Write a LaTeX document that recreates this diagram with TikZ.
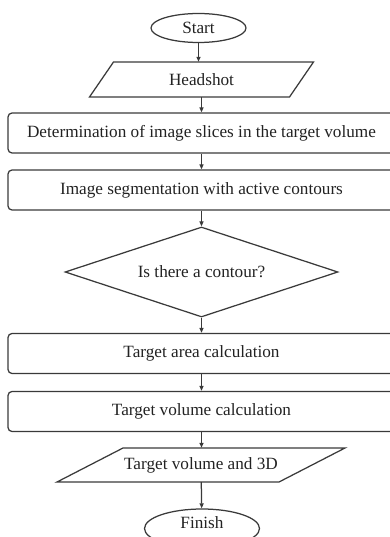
\documentclass[tikz,border=0pt]{standalone}
\usepackage{fontspec}
\setmainfont{Liberation Serif}
\usetikzlibrary{shapes.geometric,arrows.meta,calc}
\definecolor{ln}{HTML}{3A3A3A}
\definecolor{tx}{HTML}{222222}
\tikzset{
  line/.style={draw=ln, line width=1.25pt},
  arr/.style={line, -{Triangle[length=5pt,width=4pt]}},
  txt/.style={text=tx, font=\fontsize{17.2}{19}\selectfont},
  term/.style={ellipse, line, txt, inner sep=0pt},
  procbox/.style={rectangle, line, txt, rounded corners=4pt, minimum width=387pt, minimum height=40pt, inner sep=0pt},
  iotext/.style={inner sep=0pt, txt, minimum height=#1},
  decision/.style={diamond, line, txt, aspect=3, inner sep=0pt, minimum width=273pt, minimum height=90pt},
}
\begin{document}
\begin{tikzpicture}[x=1pt,y=-1pt]
\useasboundingbox (0,0) rectangle (390,537);
\clip (0,0) rectangle (390,537);
\node[term, minimum width=95pt, minimum height=29pt] (start) at (198.5,28) {Start};
\node[iotext=35pt] (hs) at (201.5,79.5) {Headshot};
\draw[line] ($(hs)+(-88,-17.5)$) -- ($(hs)+(112,-17.5)$) -- ($(hs)+(88,17.5)$) -- ($(hs)+(-112,17.5)$) -- cycle;
\node[procbox] (b1) at (201.5,133) {Determination of image slices in the target volume};
\node[procbox] (b2) at (201.5,190) {Image segmentation with active contours};
\node[decision] (d) at (201.5,272) {Is there a contour?};
\node[procbox] (b3) at (201.5,353.5) {Target area calculation};
\node[procbox] (b4) at (201.5,411.5) {Target volume calculation};
\node[iotext=34pt] (tv) at (201,465) {Target volume and 3D};
\draw[line] ($(tv)+(-78,-17)$) -- ($(tv)+(144,-17)$) -- ($(tv)+(78,17)$) -- ($(tv)+(-144,17)$) -- cycle;
\node[term, minimum width=115pt, minimum height=39pt, label={[txt, yshift=6pt]center:Finish}] (fin) at (202,528.5) {};
\draw[arr] (start) -- (start |- hs.north);
\draw[arr] (hs) -- (hs |- b1.north);
\draw[arr] (b1) -- (b2);
\draw[arr] (b2) -- (d);
\draw[arr] (d) -- (b3);
\draw[arr] (b3) -- (b4);
\draw[arr] (b4) -- (b4 |- tv.north);
\draw[arr] (tv) -- (fin);
\end{tikzpicture}
\end{document}
